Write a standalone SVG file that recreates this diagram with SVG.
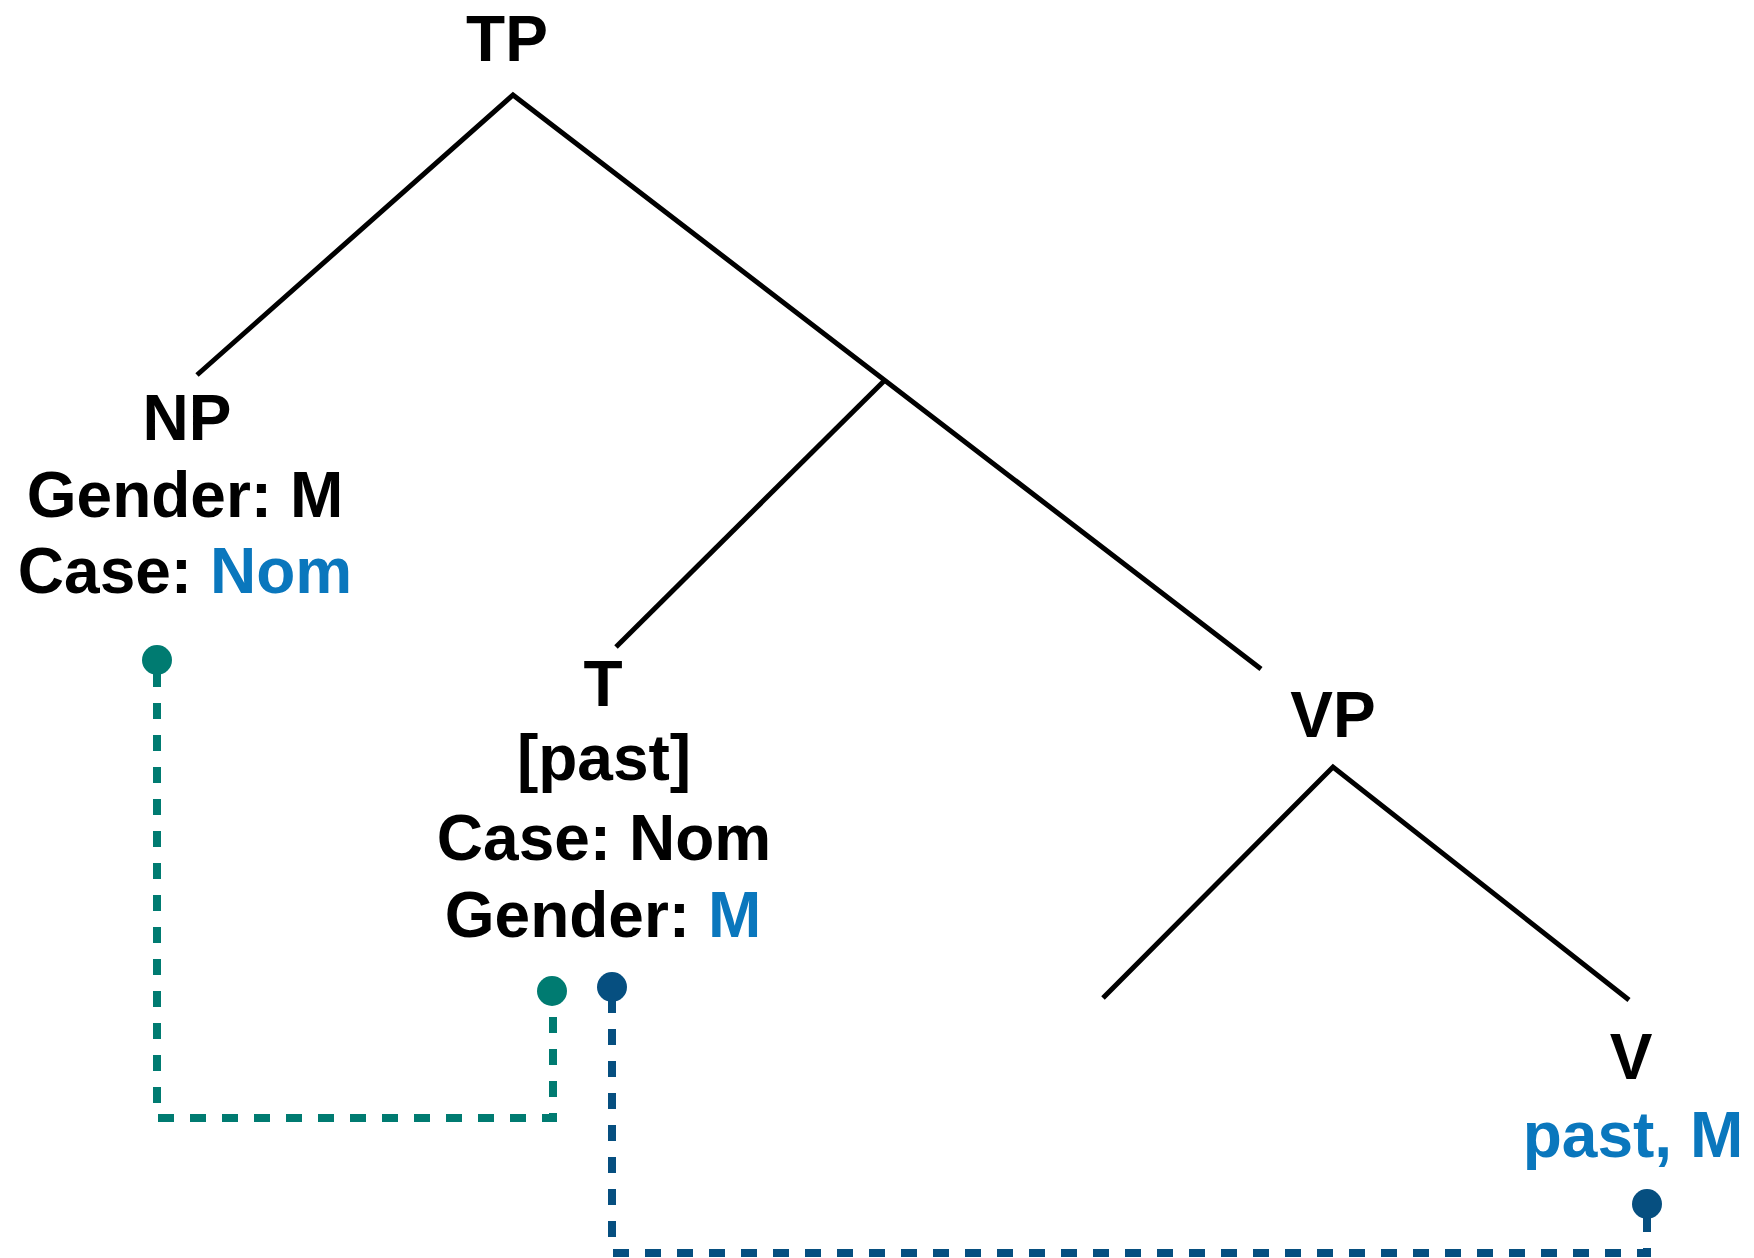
<svg xmlns="http://www.w3.org/2000/svg" width="1754" height="1258" viewBox="0 0 1754 1258">
  <style>
    text { font-family: "Liberation Sans", Arial, Helvetica, sans-serif; font-weight: bold; font-size: 64px; text-anchor: middle; fill: #000; }
    .hl { fill: #0a77bd; }
    .branch { stroke: #000; stroke-width: 5; fill: none; }
    .link { stroke-width: 8; fill: none; stroke-dasharray: 16 16; }
    .teal { stroke: #007b71; }
    .navy { stroke: #064f80; }
    .dot-teal { fill: #007b71; }
    .dot-navy { fill: #064f80; }
  </style>
  <rect width="1754" height="1258" fill="#fff"/>

  <!-- tree branches -->
  <g id="branches">
    <path class="branch" d="M197,375 L513,95 L1261,669"/>
    <path class="branch" d="M616,647 L884,381"/>
    <path class="branch" d="M1103,998 L1333,767 L1629,1000"/>
  </g>

  <g id="node-TP">
    <text x="507" y="61">TP</text>
  </g>

  <g id="node-NP">
    <text x="187" y="440">NP</text>
    <text x="185" y="517">Gender: M</text>
    <text x="185" y="593">Case: <tspan class="hl">Nom</tspan></text>
  </g>

  <g id="node-T">
    <text x="603" y="706">T</text>
    <text x="604" y="780">[past]</text>
    <text x="604" y="860">Case: Nom</text>
    <text x="603" y="937">Gender: <tspan class="hl">M</tspan></text>
  </g>

  <g id="node-VP">
    <text x="1333" y="737">VP</text>
  </g>

  <g id="node-V">
    <text x="1631" y="1079">V</text>
    <text class="hl" x="1633" y="1157">past, M</text>
  </g>

  <!-- agreement links -->
  <g id="connectors">
    <path class="link teal" d="M157,671 V1103"/>
    <path class="link teal" d="M158,1118 H557"/>
    <path class="link teal" d="M553,1017 V1118"/>
    <circle class="dot-teal" cx="157" cy="660" r="15"/>
    <circle class="dot-teal" cx="552" cy="991" r="15"/>

    <path class="link navy" d="M612,997 V1238"/>
    <path class="link navy" d="M613,1253 H1651"/>
    <path class="link navy" d="M1647,1216 V1253"/>
    <circle class="dot-navy" cx="612" cy="987" r="15"/>
    <circle class="dot-navy" cx="1647" cy="1204" r="15"/>
  </g>
</svg>
